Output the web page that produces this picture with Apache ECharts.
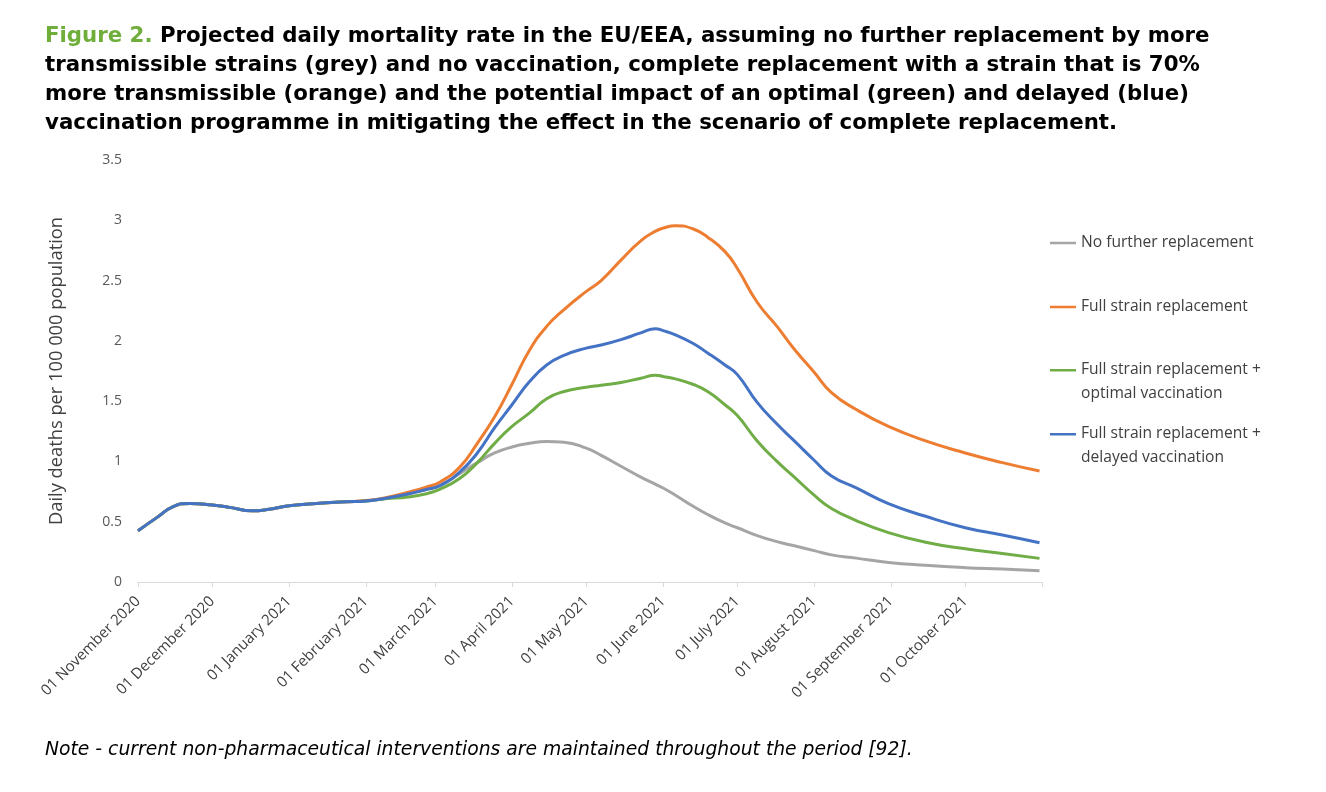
<!DOCTYPE html>
<html>
<head>
<meta charset="utf-8">
<script src="https://cdn.jsdelivr.net/npm/echarts@6/dist/echarts.min.js"></script>
<style>html,body{margin:0;padding:0;background:#fff}#c{width:1326px;height:792px}</style>
</head>
<body>
<div id="c"></div>
<script>
// ---- data ----
const dates = ['2020-11-01','2020-11-09','2020-11-15','2020-11-22','2020-12-01','2020-12-08','2020-12-17','2020-12-24','2021-01-01','2021-01-12','2021-01-24','2021-02-01','2021-02-09','2021-02-18','2021-02-25','2021-03-03','2021-03-11','2021-03-18','2021-03-25','2021-04-01','2021-04-08','2021-04-15','2021-04-22','2021-05-01','2021-05-07','2021-05-15','2021-05-23','2021-05-29','2021-06-01','2021-06-06','2021-06-13','2021-06-19','2021-06-26','2021-07-01','2021-07-09','2021-07-17','2021-07-24','2021-08-01','2021-08-08','2021-08-18','2021-08-31','2021-09-15','2021-10-01','2021-10-16','2021-10-31'];
const noFurther = [0.425,0.54,0.624,0.652,0.638,0.619,0.59,0.603,0.632,0.652,0.665,0.672,0.695,0.73,0.765,0.80,0.90,0.99,1.07,1.12,1.15,1.165,1.16,1.11,1.05,0.96,0.87,0.81,0.78,0.72,0.63,0.56,0.49,0.45,0.385,0.335,0.30,0.26,0.225,0.198,0.162,0.138,0.119,0.107,0.094];
const fullReplacement = [0.425,0.54,0.624,0.652,0.638,0.619,0.59,0.603,0.632,0.652,0.665,0.675,0.70,0.745,0.785,0.83,0.955,1.15,1.37,1.64,1.92,2.12,2.26,2.41,2.50,2.67,2.83,2.91,2.935,2.955,2.93,2.86,2.74,2.60,2.32,2.12,1.93,1.74,1.57,1.43,1.29,1.17,1.07,0.99,0.92];
const optimalVacc = [0.425,0.54,0.624,0.652,0.638,0.619,0.59,0.603,0.632,0.652,0.665,0.672,0.69,0.705,0.73,0.77,0.86,0.99,1.15,1.29,1.40,1.52,1.58,1.615,1.632,1.655,1.69,1.715,1.705,1.685,1.64,1.58,1.47,1.38,1.17,1.00,0.87,0.72,0.61,0.51,0.41,0.33,0.275,0.237,0.196];
const delayedVacc = [0.425,0.54,0.624,0.652,0.638,0.619,0.59,0.603,0.632,0.652,0.665,0.672,0.695,0.73,0.765,0.80,0.914,1.07,1.28,1.47,1.66,1.80,1.88,1.94,1.965,2.01,2.066,2.10,2.085,2.05,1.98,1.90,1.80,1.72,1.49,1.31,1.17,1.01,0.88,0.78,0.65,0.545,0.45,0.39,0.326];
const seriesNames = ['No further replacement','Full strain replacement','Full strain replacement +\noptimal vaccination','Full strain replacement +\ndelayed vaccination'];
const monthNames = ['January','February','March','April','May','June','July','August','September','October','November','December'];
const xRange = {min: '2020-11-01', max: '2021-11-01'};
const yTicks = {min: 0, max: 3.5, interval: 0.5};

const colors = {grey:'#a5a5a5', orange:'#ed7d31', green:'#70ad47', blue:'#4472c4'};
const pair = arr => dates.map((d, i) => [d, arr[i]]);

const DAY = 24 * 3600 * 1000;
const xMaxTs = new Date(2021, 10, 1).getTime();
const iconMid = 'path://M0,0h0.05v0.05h-0.05z M0,11.75h26v2.5h-26z M25.95,25.95h0.05v0.05h-0.05z';
const iconTop = 'path://M0,0h26v2.5h-26z M25.95,25.95h0.05v0.05h-0.05z';
const legendBase = {
  orient: 'vertical', left: 1050, padding: 0, itemWidth: 26, itemHeight: 26,
  selectedMode: false, itemStyle: {borderWidth: 0},
  textStyle: {fontFamily: 'Open Sans', fontSize: 15.6, color: '#404040', lineHeight: 24}
};
const font = 'DejaVu Sans';

const chart = echarts.init(document.getElementById('c'), null, {renderer: 'canvas'});
chart.setOption({
  animation: false,
  backgroundColor: '#fff',
  title: [{
    left: 45, top: 22, padding: 0,
    text: '{g|Figure 2.} Projected daily mortality rate in the EU/EEA, assuming no further replacement by more\ntransmissible strains (grey) and no vaccination, complete replacement with a strain that is 70%\nmore transmissible (orange) and the potential impact of an optimal (green) and delayed (blue)\nvaccination programme in mitigating the effect in the scenario of complete replacement.',
    textStyle: {
      fontFamily: font, fontSize: 21.3, fontWeight: 'bold', color: '#000', lineHeight: 29,
      rich: {g: {fontFamily: font, fontSize: 21.3, fontWeight: 'bold', color: '#6fae3a', lineHeight: 29}}
    }
  }, {
    left: 45, top: 741, padding: 0,
    text: 'Note - current non-pharmaceutical interventions are maintained throughout the period [92].',
    textStyle: {fontFamily: font, fontSize: 18.75, fontStyle: 'italic', fontWeight: 'normal', color: '#000'}
  }],
  legend: [
    Object.assign({}, legendBase, {top: 230, data: [{name: seriesNames[0], icon: iconMid}]}),
    Object.assign({}, legendBase, {top: 294, data: [{name: seriesNames[1], icon: iconMid}]}),
    Object.assign({}, legendBase, {top: 358, data: [{name: seriesNames[2], icon: iconTop}]}),
    Object.assign({}, legendBase, {top: 422, data: [{name: seriesNames[3], icon: iconTop}]})
  ],
  grid: {left: 138, right: 284, top: 160, bottom: 210, containLabel: false},
  xAxis: {
    type: 'time',
    min: xRange.min, max: xRange.max,
    splitNumber: 12, minInterval: 28 * DAY, maxInterval: 31 * DAY,
    axisLine: {show: true, lineStyle: {color: '#d9d9d9', width: 1}},
    axisTick: {show: true, length: 5, lineStyle: {color: '#d9d9d9'}},
    splitLine: {show: false},
    axisLabel: {
      rotate: 45, margin: 17, fontFamily: 'Open Sans', fontSize: 15, color: '#404040',
      hideOverlap: false, showMaxLabel: false,
      formatter: function (v) {
        if (v >= xMaxTs) return '';
        const d = new Date(v);
        return '01 ' + monthNames[d.getMonth()] + ' ' + d.getFullYear();
      }
    }
  },
  yAxis: {
    type: 'value', min: yTicks.min, max: yTicks.max, interval: yTicks.interval,
    name: 'Daily deaths per 100 000 population', nameLocation: 'middle', nameGap: 72,
    nameTextStyle: {fontFamily: 'Open Sans', fontSize: 18.3, color: '#404040'},
    axisLine: {show: false}, axisTick: {show: false}, splitLine: {show: false},
    axisLabel: {margin: 16, fontFamily: 'Open Sans', fontSize: 14, color: '#595959'}
  },
  series: [
    {name: seriesNames[0], type: 'line', data: pair(noFurther), color: colors.grey},
    {name: seriesNames[1], type: 'line', data: pair(fullReplacement), color: colors.orange},
    {name: seriesNames[2], type: 'line', data: pair(optimalVacc), color: colors.green},
    {name: seriesNames[3], type: 'line', data: pair(delayedVacc), color: colors.blue}
  ].map(s => Object.assign(s, {smooth: 0.5, symbol: 'none', lineStyle: {width: 3, color: s.color}, itemStyle: {color: s.color}}))
});
</script>
</body>
</html>
